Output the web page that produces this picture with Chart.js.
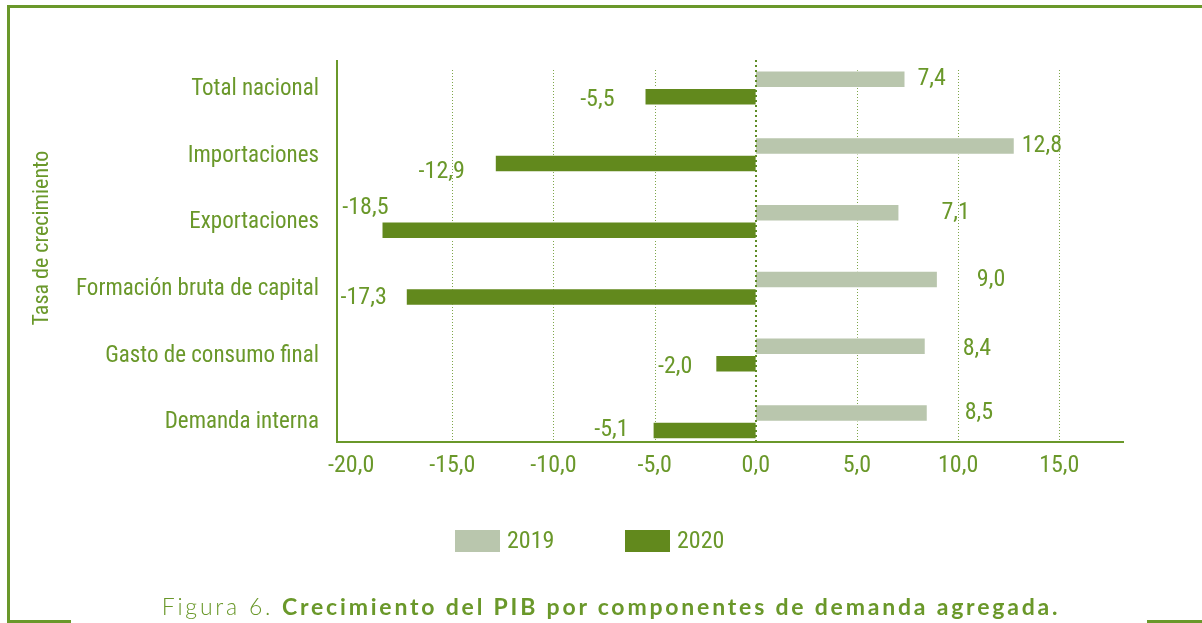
<!DOCTYPE html>
<html lang="es">
<head>
<meta charset="utf-8">
<script src="https://cdn.jsdelivr.net/npm/chart.js@4.4.1/dist/chart.umd.min.js"></script>
<style>
  html, body { margin: 0; padding: 0; background: #fff; }
  #wrap { position: relative; width: 1202px; height: 623px; overflow: hidden; }
  canvas { position: absolute; left: 0; top: 0; }
  .frame { position: absolute; background: #6a982a; }
  #caption {
    position: absolute; left: 10px; top: 592px; width: 1202px;
    text-align: center; color: #6a982a; white-space: nowrap;
    font-family: "Lato", "Open Sans", sans-serif; font-size: 23px; letter-spacing: 2.8px;
  }
  #caption .fig { font-weight: 300; }
  #caption b { font-weight: 700; }
</style>
</head>
<body>
<div id="wrap">
  <canvas id="chart" width="1202" height="623"></canvas>
  <div class="frame" style="left:7px; top:5px; width:1195px; height:3px;"></div>
  <div class="frame" style="left:7px; top:5px; width:3px; height:618px;"></div>
  <div class="frame" style="left:7px; top:620px; width:64px; height:3px;"></div>
  <div class="frame" style="left:1147px; top:620px; width:55px; height:3px;"></div>
  <div id="caption"><span class="fig">Figura 6.</span> <b>Crecimiento del PIB por componentes de demanda agregada.</b></div>
</div>
<script>
// ── datos ────────────────────────────────────────────────
const categories = [
  "Total nacional",
  "Importaciones",
  "Exportaciones",
  "Formación bruta de capital",
  "Gasto de consumo final",
  "Demanda interna",
];
const values2019 = [7.4, 12.8, 7.1, 9.0, 8.4, 8.5];
const values2020 = [-5.5, -12.9, -18.5, -17.3, -2.0, -5.1];
const seriesLabels = ["2019", "2020"];
const axisTitle = "Tasa de crecimiento";

// desplazamiento manual de cada etiqueta [dx, dy] respecto al extremo de la barra
const labelShift2019 = [[12, 0], [7, 0], [42, 0], [39, 1], [37, 3], [37, 0]];
const labelShift2020 = [[-30, 3], [-30, 8], [7, -22], [-19, 1], [-23, 3], [-24, 0]];

// ── estilo ───────────────────────────────────────────────
const FONT = '"Roboto Condensed", "Liberation Sans Narrow", "DejaVu Sans Condensed", sans-serif';
const GREEN = "#6a982a";
const COLOR_2019 = "#b9c6ad";
const COLOR_2020 = "#62891d";
const GRID_TOP = 70;
const AXIS_TOP = 60;
const AXIS_Y = 442;

function fmt(v) {
  return v.toFixed(1).replace(".", ",");
}

// ── rejilla punteada y ejes ──────────────────────────────
const gridPlugin = {
  id: "dottedGrid",
  beforeDatasetsDraw(chart) {
    const { ctx, scales: { x } } = chart;
    ctx.save();
    ctx.strokeStyle = "#7ea64a";
    ctx.lineWidth = 1;
    ctx.setLineDash([1, 2]);
    x.ticks.forEach(t => {
      if (t.value === 0 || t.value === -20) return;
      const px = Math.round(x.getPixelForValue(t.value)) + 0.5;
      ctx.beginPath();
      ctx.moveTo(px, GRID_TOP);
      ctx.lineTo(px, AXIS_Y);
      ctx.stroke();
    });
    ctx.restore();
  },
  afterDatasetsDraw(chart) {
    const { ctx, chartArea, scales: { x } } = chart;
    ctx.save();
    // línea del cero
    const zx = Math.round(x.getPixelForValue(0));
    ctx.strokeStyle = "#5f8c25";
    ctx.lineWidth = 2;
    ctx.setLineDash([2, 3]);
    ctx.beginPath();
    ctx.moveTo(zx, AXIS_TOP);
    ctx.lineTo(zx, AXIS_Y);
    ctx.stroke();
    // ejes
    ctx.setLineDash([]);
    ctx.strokeStyle = GREEN;
    ctx.lineWidth = 2;
    ctx.beginPath();
    ctx.moveTo(chartArea.left, AXIS_TOP);
    ctx.lineTo(chartArea.left, AXIS_Y);
    ctx.lineTo(chartArea.right, AXIS_Y);
    ctx.stroke();
    ctx.restore();
  },
};

// ── etiquetas de valor, título del eje y leyenda ──────────
const labelsPlugin = {
  id: "valueLabels",
  afterDraw(chart) {
    const ctx = chart.ctx;
    const shifts = [labelShift2019, labelShift2020];
    ctx.save();
    ctx.fillStyle = GREEN;
    ctx.font = `24px ${FONT}`;
    ctx.textBaseline = "middle";
    chart.data.datasets.forEach((ds, di) => {
      const meta = chart.getDatasetMeta(di);
      meta.data.forEach((bar, i) => {
        const v = ds.data[i];
        const [dx, dy] = shifts[di][i];
        ctx.textAlign = v >= 0 ? "left" : "right";
        ctx.fillText(fmt(v), bar.x + dx, bar.y + dy);
      });
    });

    // título vertical
    ctx.save();
    ctx.translate(42, 238);
    ctx.rotate(-Math.PI / 2);
    ctx.textAlign = "center";
    ctx.font = `22px ${FONT}`;
    ctx.fillText(axisTitle, 0, 0);
    ctx.restore();

    // leyenda
    const itemX = [455, 625];
    ctx.textAlign = "left";
    ctx.font = `24px ${FONT}`;
    chart.data.datasets.forEach((ds, di) => {
      ctx.fillStyle = ds.backgroundColor;
      ctx.fillRect(itemX[di], 530, 45, 22);
      ctx.fillStyle = GREEN;
      ctx.fillText(ds.label, itemX[di] + 52, 542);
    });
    ctx.restore();
  },
};

// ── gráfico ──────────────────────────────────────────────
Chart.defaults.font.family = FONT;
Chart.defaults.color = GREEN;

new Chart(document.getElementById("chart"), {
  type: "bar",
  data: {
    labels: categories,
    datasets: [
      {
        label: seriesLabels[0],
        data: values2019,
        backgroundColor: COLOR_2019,
        borderColor: "#ffffff",
        borderWidth: 1,
        categoryPercentage: 0.525,
        barPercentage: 1.0,
      },
      {
        label: seriesLabels[1],
        data: values2020,
        backgroundColor: COLOR_2020,
        borderColor: "#ffffff",
        borderWidth: 1,
        categoryPercentage: 0.525,
        barPercentage: 1.0,
      },
    ],
  },
  options: {
    indexAxis: "y",
    responsive: false,
    devicePixelRatio: 1,
    animation: false,
    layout: { padding: { left: 30, right: 78, top: 54.7, bottom: 100 } },
    plugins: {
      legend: { display: false },
      tooltip: { enabled: false },
    },
    scales: {
      x: {
        type: "linear",
        min: -20.7,
        max: 18.2,
        grid: { display: false },
        border: { display: false },
        ticks: {
          stepSize: 5,
          includeBounds: false,
          color: GREEN,
          font: { size: 24 },
          padding: -11,
          callback: v => fmt(v),
        },
        afterFit(scale) { scale.height = 68; },
      },
      y: {
        type: "category",
        offset: true,
        grid: { display: false },
        border: { display: false },
        ticks: {
          color: GREEN,
          font: { size: 23 },
          padding: 10,
          labelOffset: 1,
        },
        afterFit(scale) { scale.width = 307; },
      },
    },
  },
  plugins: [gridPlugin, labelsPlugin],
});
</script>
</body>
</html>
